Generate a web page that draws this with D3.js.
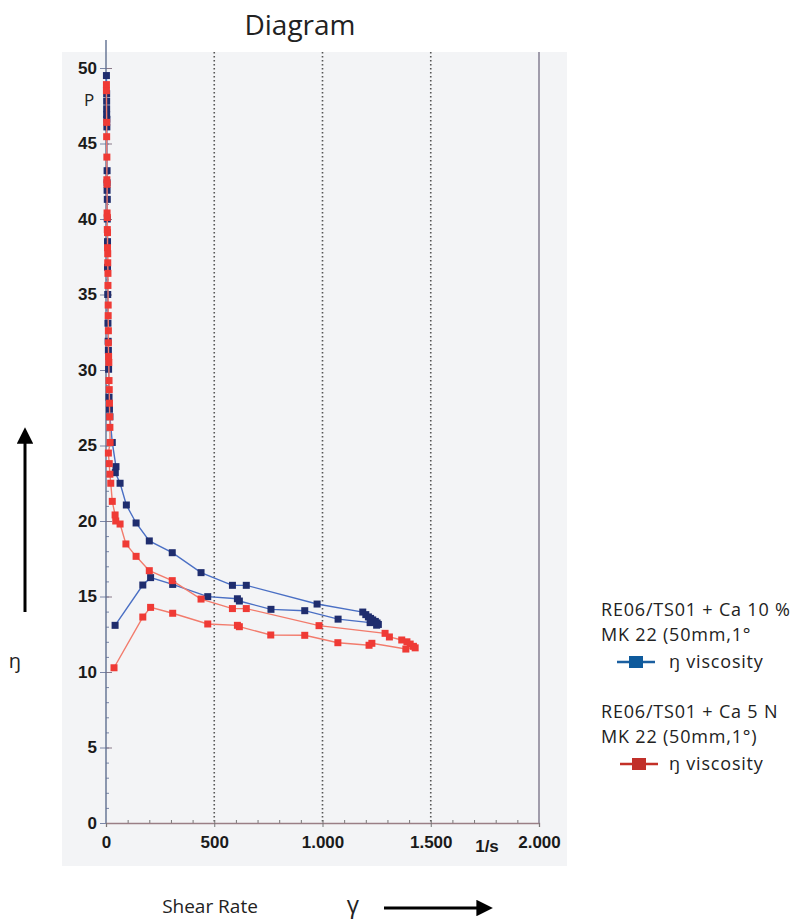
<!DOCTYPE html>
<html>
<head>
<meta charset="utf-8">
<script src="https://cdn.jsdelivr.net/npm/d3@7"></script>
<style>
  body { margin: 0; background: #fff; }
  .lbl { font-family: "Open Sans", "Noto Sans", sans-serif; fill: #222; }
  .tick text { font-family: "Liberation Sans", Arial, sans-serif; font-weight: bold; font-size: 17px; fill: #1a1a1a; }
</style>
</head>
<body>
<div id="chart"></div>
<script>
// ---- data ----
var xTicks = [0, 500, 1000, 1500, 2000];
var xTickLabels = ["0", "500", "1.000", "1.500", "2.000"];
var yTicks = [0, 5, 10, 15, 20, 25, 30, 35, 40, 45, 50];
var gridX = [500, 1000, 1500];

// Ca 10 % : up ramp then down ramp (shear rate 1/s, viscosity)
var blueShear = [2, 3, 3, 3, 3, 4, 4, 5, 5, 5, 6, 6, 7, 7, 8, 9, 10, 11, 12, 14, 16, 18, 29, 46, 43, 65, 94, 139, 200, 306, 439, 584, 648, 975, 1186, 1200, 1212, 1222, 1232, 1244, 1252, 1258,
                 1250, 1220, 1072, 918, 762, 616, 607, 470, 308, 206, 170, 42];
var blueVisc = [49.5, 48.3, 47.8, 47.3, 46.9, 46.6, 46.1, 43.2, 42.4, 41.9, 41.3, 40.0, 38.5, 36.8, 35.0, 33.1, 31.9, 31.3, 30.05, 28.2, 27.4, 26.9, 25.2, 23.6, 23.2, 22.5, 21.06, 19.87, 18.68, 17.9, 16.58, 15.74, 15.74, 14.5, 13.97, 13.8, 13.65, 13.55, 13.45, 13.35, 13.25, 13.15,
                13.1, 13.27, 13.5, 14.06, 14.15, 14.7, 14.85, 14.99, 15.8, 16.25, 15.76, 13.09];

// Ca 5 N
var redShear = [2, 2, 3, 3, 4, 4, 5, 5, 6, 6, 7, 7, 8, 8, 9, 9, 10, 10, 11, 11, 12, 13, 14, 15, 16, 17, 18, 19, 11, 15, 18, 22, 29, 42, 45, 65, 92, 139, 200, 306, 439, 584, 648, 984, 1289, 1309, 1366, 1390, 1405, 1420, 1428,
                1385, 1228, 1215, 1071, 918, 761, 616, 607, 470, 308, 206, 170, 37];
var redVisc = [48.9, 48.5, 46.4, 45.45, 44.1, 42.6, 42.3, 40.4, 40.1, 39.3, 39.1, 38.1, 37.7, 37.1, 36.4, 35.6, 34.3, 33.6, 32.6, 31.8, 30.9, 30.5, 29.3, 28.7, 27.8, 26.9, 26.2, 25.2, 24.5, 23.8, 23.1, 22.5, 21.3, 20.4, 20.0, 19.8, 18.48, 17.66, 16.71, 16.05, 14.83, 14.2, 14.2, 13.07, 12.56, 12.32, 12.12, 12.0, 11.85, 11.7, 11.6,
               11.52, 11.9, 11.77, 11.94, 12.43, 12.45, 13.0, 13.09, 13.18, 13.89, 14.28, 13.64, 10.28];

var legendTitles = [["RE06/TS01 + Ca 10 %", "MK 22 (50mm,1°"], ["RE06/TS01 + Ca 5 N", "MK 22 (50mm,1°)"]];
var legendItem = "ŋ viscosity";

// ---- layout ----
var W = 795, H = 919;
var plot = { left: 106, right: 539, top: 68, bottom: 823, frameTop: 52 };

var svg = d3.select("#chart").append("svg")
  .attr("width", W).attr("height", H);

// scanned sheet background
svg.append("rect")
  .attr("x", 62).attr("y", plot.frameTop)
  .attr("width", 505).attr("height", 814)
  .style("fill", "#f3f4f6");

svg.append("text").attr("class", "lbl")
  .attr("x", 300).attr("y", 35)
  .style("text-anchor", "middle").style("font-size", "28px")
  .text("Diagram");

var x = d3.scaleLinear().domain([0, 2000]).range([plot.left, plot.right]);
var y = d3.scaleLinear().domain([0, 50]).range([plot.bottom, plot.top]);

// dotted grid lines
svg.selectAll(".grid")
  .data(gridX)
  .enter().append("line")
    .attr("x1", function (d) { return x(d); })
    .attr("x2", function (d) { return x(d); })
    .attr("y1", plot.frameTop)
    .attr("y2", plot.bottom)
    .style("stroke", "#555")
    .style("stroke-width", 1.6)
    .style("stroke-dasharray", "1.5,2.5");

// right border line
svg.append("line")
  .attr("x1", x(2000)).attr("x2", x(2000))
  .attr("y1", plot.frameTop).attr("y2", plot.bottom)
  .style("stroke", "#857f92").style("stroke-width", 1.5);

// minor ticks
svg.append("g")
  .attr("transform", "translate(0," + plot.bottom + ")")
  .call(d3.axisTop(x).tickValues(d3.range(100, 2000, 100)).tickSize(3).tickFormat(""))
  .call(function (g) { g.select(".domain").remove(); g.selectAll("line").style("stroke", "#777"); });
svg.append("g")
  .attr("transform", "translate(" + plot.left + ",0)")
  .call(d3.axisRight(y).tickValues(d3.range(1, 50, 1)).tickSize(3).tickFormat(""))
  .call(function (g) { g.select(".domain").remove(); g.selectAll("line").style("stroke", "#7a86a6"); });

// major tick crosses on the y axis (right half)
svg.append("g")
  .attr("transform", "translate(" + plot.left + ",0)")
  .call(d3.axisRight(y).tickValues(yTicks).tickSize(6).tickFormat(""))
  .call(function (g) { g.select(".domain").remove(); g.selectAll("line").style("stroke", "#8a7a8a"); });

// y axis
var yAxis = svg.append("g")
  .attr("transform", "translate(" + plot.left + ",0)")
  .call(d3.axisLeft(y).tickValues(yTicks).tickSize(6).tickPadding(3));
yAxis.select(".domain").remove();
yAxis.selectAll("line").style("stroke", "#7a86a6");
svg.append("line")
  .attr("x1", plot.left).attr("x2", plot.left)
  .attr("y1", plot.frameTop - 12).attr("y2", plot.bottom)
  .style("stroke", "#5f6f90").style("stroke-width", 1.4);

// x axis
var xAxis = svg.append("g")
  .attr("transform", "translate(0," + plot.bottom + ")")
  .call(d3.axisBottom(x).tickValues(xTicks).tickSize(4).tickPadding(9)
    .tickFormat(function (d, i) { return xTickLabels[i]; }));
xAxis.select(".domain").style("stroke", "#9a7f86").style("stroke-width", 1.3);
xAxis.selectAll("line").style("stroke", "#777");

svg.append("text")
  .attr("x", 487).attr("y", 852)
  .style("text-anchor", "middle")
  .style("font-family", "Liberation Sans, Arial, sans-serif")
  .style("font-weight", "bold").style("font-size", "17px").style("fill", "#1a1a1a")
  .text("1/s");

svg.append("text").attr("class", "lbl")
  .attr("x", 89).attr("y", 106)
  .style("text-anchor", "middle").style("font-size", "17px")
  .text("P");

// series
var series = [
  { shear: blueShear, visc: blueVisc, line: "#4a6fc4", mark: "#1f2d6e" },
  { shear: redShear, visc: redVisc, line: "#f27b6c", mark: "#ef3a35" }
];
var line = d3.line()
  .x(function (d) { return x(d[0]); })
  .y(function (d) { return y(d[1]); });

series.forEach(function (s) {
  var pts = s.shear.map(function (v, i) { return [v, s.visc[i]]; });
  svg.append("path")
    .datum(pts)
    .attr("d", line)
    .style("fill", "none")
    .style("stroke", s.line)
    .style("stroke-width", 1.4);
  svg.selectAll(null)
    .data(pts)
    .enter().append("rect")
      .attr("x", function (d) { return x(d[0]) - 3.5; })
      .attr("y", function (d) { return y(d[1]) - 3.5; })
      .attr("width", 7).attr("height", 7)
      .style("fill", s.mark);
});

// legend
var legendColors = [{ line: "#1b5fa0", mark: "#0e5a9c" }, { line: "#c33027", mark: "#c1302a" }];
legendTitles.forEach(function (t, i) {
  var g = svg.append("g").attr("transform", "translate(601," + (616 + i * 102) + ")");
  t.forEach(function (s, j) {
    g.append("text").attr("class", "lbl")
      .attr("x", 0).attr("y", j * 25)
      .style("font-size", "18px").style("letter-spacing", "0.8px")
      .text(s);
  });
  var lx = i === 0 ? 16 : 19;
  g.append("line")
    .attr("x1", lx).attr("x2", lx + 38)
    .attr("y1", 46).attr("y2", 46)
    .style("stroke", legendColors[i].line).style("stroke-width", 2.5);
  g.append("rect")
    .attr("x", lx + 12).attr("y", 40)
    .attr("width", 14).attr("height", 12)
    .style("fill", legendColors[i].mark);
  g.append("text").attr("class", "lbl")
    .attr("x", 68).attr("y", 52)
    .style("font-size", "18px").style("letter-spacing", "0.8px")
    .text(legendItem);
});

// axis name arrows
var defs = svg.append("defs");
defs.append("marker")
  .attr("id", "arrow").attr("viewBox", "0 0 10 10")
  .attr("refX", 1).attr("refY", 5)
  .attr("markerWidth", 5.5).attr("markerHeight", 5.5)
  .attr("markerUnits", "strokeWidth")
  .attr("orient", "auto")
  .append("path").attr("d", "M0,0 L10,5 L0,10 z").style("fill", "#000");

svg.append("line")
  .attr("x1", 25).attr("x2", 25).attr("y1", 612).attr("y2", 442)
  .style("stroke", "#000").style("stroke-width", 3)
  .attr("marker-end", "url(#arrow)");
svg.append("text").attr("class", "lbl")
  .attr("x", 15).attr("y", 668)
  .style("text-anchor", "middle").style("font-size", "20px")
  .text("ŋ");

svg.append("text").attr("class", "lbl")
  .attr("x", 210).attr("y", 913)
  .style("text-anchor", "middle").style("font-size", "19px")
  .text("Shear Rate");
svg.append("text").attr("class", "lbl")
  .attr("x", 353).attr("y", 913)
  .style("text-anchor", "middle").style("font-size", "24px")
  .text("γ");
svg.append("line")
  .attr("x1", 384).attr("x2", 478).attr("y1", 908).attr("y2", 908)
  .style("stroke", "#000").style("stroke-width", 3)
  .attr("marker-end", "url(#arrow)");
</script>
</body>
</html>
